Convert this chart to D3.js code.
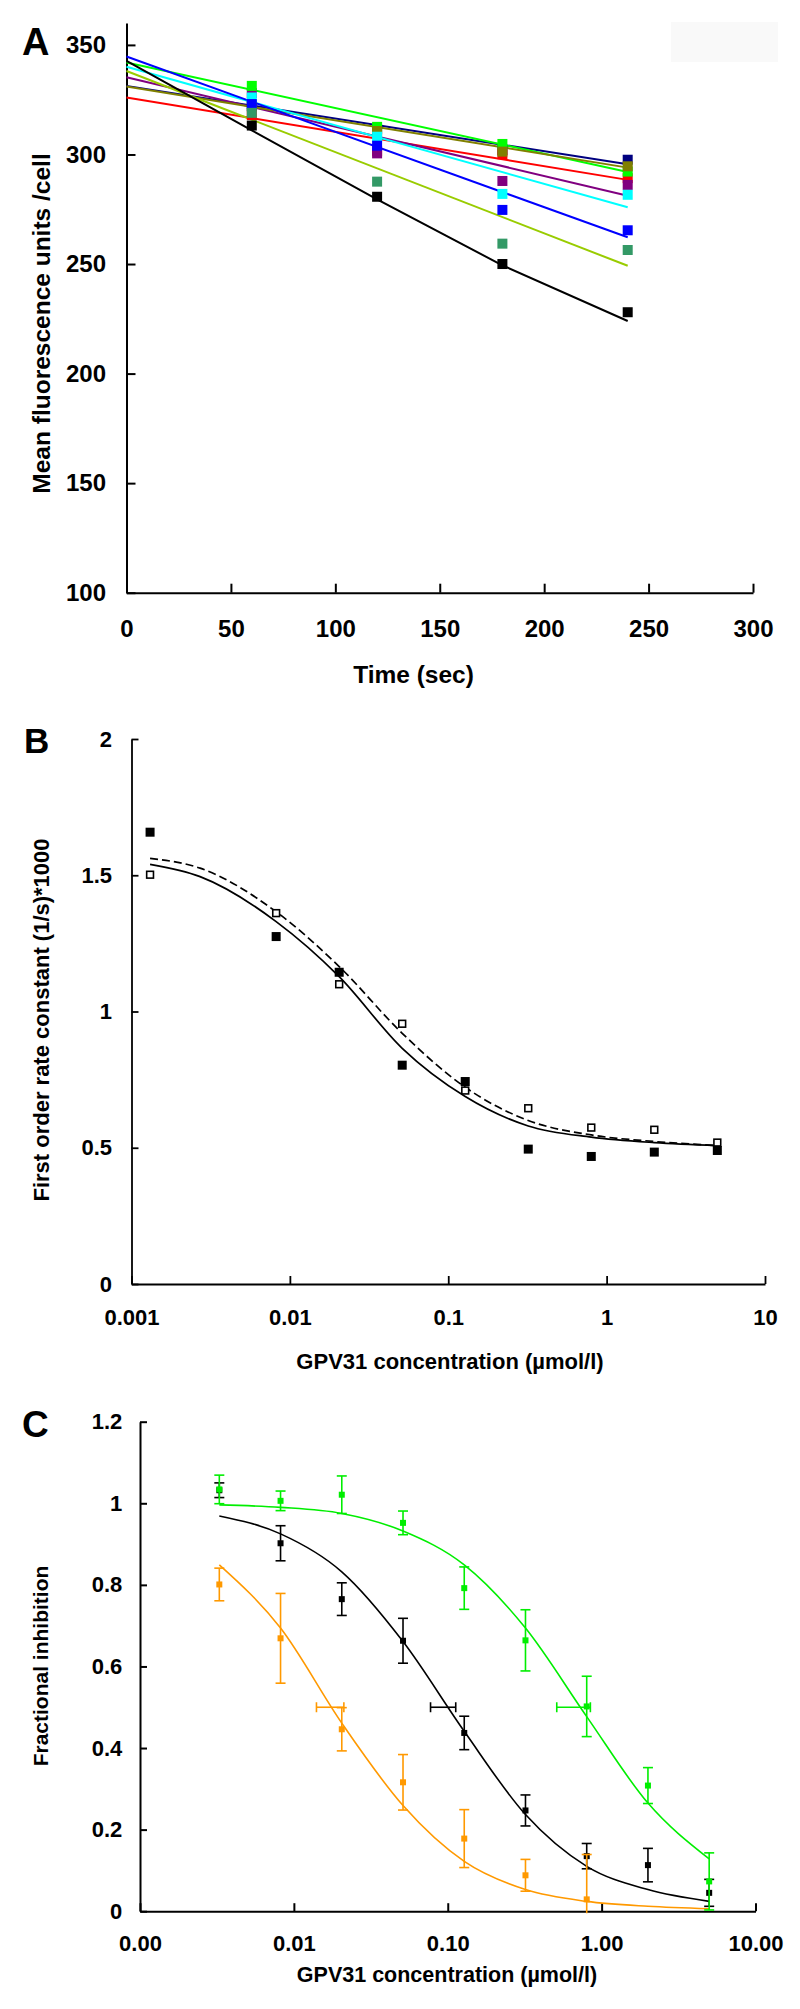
<!DOCTYPE html>
<html><head><meta charset="utf-8">
<script src="https://cdn.jsdelivr.net/npm/d3@7"></script>
<style>
body{margin:0;background:#fff;}
svg{display:block;font-family:"Liberation Sans",Arial,Helvetica,sans-serif;}
</style></head><body>
<svg id="c" width="800" height="2009"></svg>
<script>
// ---------- Panel A data ----------
const aTime = [60, 120, 180, 240];
const aXTicks = [0, 50, 100, 150, 200, 250, 300];
const aYTicks = [100, 150, 200, 250, 300, 350];
const aNavy = [322, 311.5, 302, 297.6];
const aRed = [318, 301.5, 300.1, 289.2];
const aPurple = [328, 300.5, 287.9, 286.1];
const aLime = [331.3, 312.6, 304.8, 292.2];
const aOlive = [322.5, 310.7, 301.3, 294.6];
const aCyan = [326, 308.1, 282, 281.6];
const aBlue = [323, 304, 274.7, 265.4];
const aSeaGreen = [319, 287.6, 259.3, 256.4];
const aBlack = [313.2, 280.7, 250, 228];
const aFitTime = [0, 240];
const aFitNavy = [331.3, 295.5];
const aFitRed = [326, 288.4];
const aFitPurple = [335.2, 281.2];
const aFitLime = [342, 292];
const aFitOlive = [331, 294];
const aFitCyan = [340, 275.9];
const aFitBlue = [344.7, 262.2];
const aFitYellowGreen = [338.1, 249.2];
const aFitBlackTime = [0, 60, 120, 180, 240];
const aFitBlack = [342.7, 311, 279.5, 249.4, 224];

// ---------- Panel B data ----------
const bXTicks = [0.001, 0.01, 0.1, 1, 10];
const bXLabels = ["0.001", "0.01", "0.1", "1", "10"];
const bYTicks = [0, 0.5, 1, 1.5, 2];
const bYLabels = ["0", "0.5", "1", "1.5", "2"];
const bConc = [0.00131, 0.008192, 0.02048, 0.0512, 0.128, 0.32, 0.8, 2, 5];
const bFilled = [1.658, 1.275, 1.144, 0.803, 0.743, 0.495, 0.468, 0.484, 0.49];
const bOpen = [1.502, 1.361, 1.100, 0.955, 0.710, 0.645, 0.574, 0.566, 0.519];
const bFitConc = [0.00131, 0.00271, 0.008192, 0.02048, 0.0512, 0.128, 0.32, 0.8, 2, 5];
const bFitSolid = [1.54, 1.495, 1.33, 1.128, 0.865, 0.688, 0.58, 0.539, 0.519, 0.508];
const bFitDashed = [1.562, 1.526, 1.366, 1.165, 0.92, 0.722, 0.6, 0.547, 0.523, 0.508];

// ---------- Panel C data ----------
const cXTicks = [0.001, 0.01, 0.1, 1, 10];
const cXLabels = ["0.00", "0.01", "0.10", "1.00", "10.00"];
const cYTicks = [0, 0.2, 0.4, 0.6, 0.8, 1, 1.2];
const cYLabels = ["0", "0.2", "0.4", "0.6", "0.8", "1", "1.2"];
const cConc = [0.0032768, 0.008192, 0.02048, 0.0512, 0.128, 0.32, 0.8, 2, 5];
const cGreen = [1.034, 1.006, 1.021, 0.952, 0.792, 0.664, 0.502, 0.308, 0.073];
const cGreenErr = [0.035, 0.024, 0.046, 0.029, 0.052, 0.075, 0.074, 0.044, 0.07];
const cBlack = [1.032, 0.902, 0.765, 0.663, 0.437, 0.247, 0.135, 0.113, 0.045];
const cBlackErr = [0.018, 0.043, 0.04, 0.055, 0.041, 0.038, 0.031, 0.041, 0.033];
const cOrangeConc = [0.0032768, 0.008192, 0.02048, 0.0512, 0.128, 0.32, 0.8];
const cOrange = [0.801, 0.669, 0.446, 0.316, 0.178, 0.088, 0.029];
const cOrangeErr = [0.04, 0.11, 0.053, 0.068, 0.071, 0.039, 0.11];
const cFitGreen = [0.996, 0.990, 0.975, 0.932, 0.849, 0.694, 0.477, 0.265, 0.128];
const cFitBlack = [0.969, 0.925, 0.832, 0.661, 0.441, 0.237, 0.110, 0.053, 0.024];
const cFitOrange = [0.849, 0.694, 0.461, 0.259, 0.122, 0.053, 0.024, 0.012, 0.006];
// IC50 horizontal error bars (order: orange, black, green)
const cIC50 = [0.0172, 0.0933, 0.657];
const cIC50Lo = [0.01402, 0.0773, 0.511];
const cIC50Hi = [0.02113, 0.1127, 0.845];
const cIC50Y = [0.5, 0.5, 0.5];

// ---------- drawing ----------
const FONT = '"Liberation Sans", Arial, Helvetica, sans-serif';
const svg = d3.select("#c");
svg.append("rect").attr("width", 800).attr("height", 2009).attr("fill", "#fff");

function styleAxis(g, fs, sw) {
  g.attr("font-family", FONT);
  g.select(".domain").attr("stroke", "#000").attr("stroke-width", sw);
  g.selectAll(".tick line").attr("stroke", "#000").attr("stroke-width", sw);
  g.selectAll(".tick text").attr("fill", "#000").attr("font-size", fs)
    .attr("font-weight", "bold").attr("font-family", FONT);
}
function label(txt, x, y, fs, opts = {}) {
  const t = svg.append("text").text(txt).attr("x", x).attr("y", y)
    .attr("font-size", fs).attr("font-weight", "bold").attr("font-family", FONT)
    .attr("fill", "#000").attr("text-anchor", opts.anchor || "start");
  if (opts.rotate) t.attr("transform", `rotate(-90,${x},${y})`);
  return t;
}

// ===== Panel A =====
{
  const x = d3.scaleLinear().domain([0, 300]).range([126.5, 753]);
  const y = d3.scaleLinear().domain([100, 360]).range([592.7, 23]);
  svg.append("rect").attr("x", 671).attr("y", 22).attr("width", 107).attr("height", 40).attr("fill", "#f9f9f9");

  const gx = svg.append("g").attr("transform", "translate(0,592.7)")
    .call(d3.axisBottom(x).tickValues(aXTicks).tickFormat(d3.format("d")).tickSizeInner(-9).tickSizeOuter(0).tickPadding(27));
  styleAxis(gx, 24, 2);
  const gy = svg.append("g").attr("transform", "translate(126.5,0)")
    .call(d3.axisLeft(y).tickValues(aYTicks).tickFormat(d3.format("d")).tickSizeInner(-9).tickSizeOuter(0).tickPadding(20.5));
  styleAxis(gy, 24, 2);

  const series = [
    {c: "#000080", lc: "#000080", v: aNavy, ft: aFitTime, fv: aFitNavy},
    {c: "#ff0000", lc: "#ff0000", v: aRed, ft: aFitTime, fv: aFitRed},
    {c: "#800080", lc: "#800080", v: aPurple, ft: aFitTime, fv: aFitPurple},
    {c: "#00ff00", lc: "#00ff00", v: aLime, ft: aFitTime, fv: aFitLime},
    {c: "#808000", lc: "#808000", v: aOlive, ft: aFitTime, fv: aFitOlive},
    {c: "#00ffff", lc: "#00ffff", v: aCyan, ft: aFitTime, fv: aFitCyan},
    {c: "#0000ff", lc: "#0000ff", v: aBlue, ft: aFitTime, fv: aFitBlue},
    {c: "#339966", lc: "#99cc00", v: aSeaGreen, ft: aFitTime, fv: aFitYellowGreen},
    {c: "#000000", lc: "#000000", v: aBlack, ft: aFitBlackTime, fv: aFitBlack}
  ];
  const line = d3.line().x(d => x(d[0])).y(d => y(d[1]));
  series.forEach(s => {
    svg.append("path").attr("d", line(s.ft.map((t, i) => [t, s.fv[i]])))
      .attr("fill", "none").attr("stroke", s.lc).attr("stroke-width", 2);
  });
  series.forEach(s => {
    svg.append("g").selectAll("rect").data(aTime.map((t, i) => [t, s.v[i]])).join("rect")
      .attr("x", d => x(d[0]) - 5).attr("y", d => y(d[1]) - 5)
      .attr("width", 10).attr("height", 10).attr("fill", s.c);
  });
  label("A", 22, 55, 38);
  label("Time (sec)", 413.5, 683, 24.5, {anchor: "middle"});
  label("Mean fluorescence units /cell", 50, 323.5, 24.5, {anchor: "middle", rotate: true});
}

// ===== Panel B =====
{
  const x = d3.scaleLog().domain([0.001, 10]).range([131.5, 765]);
  const y = d3.scaleLinear().domain([0, 2]).range([1284, 739]);
  const gx = svg.append("g").attr("transform", "translate(0,1284)")
    .call(d3.axisBottom(x).tickValues(bXTicks).tickFormat((d, i) => bXLabels[i]).tickSizeInner(-8).tickSizeOuter(0).tickPadding(25));
  styleAxis(gx, 22, 1.8);
  const gy = svg.append("g").attr("transform", "translate(131.5,0)")
    .call(d3.axisLeft(y).tickValues(bYTicks).tickFormat((d, i) => bYLabels[i]).tickSizeInner(-7).tickSizeOuter(0).tickPadding(19.5));
  styleAxis(gy, 22, 1.8);

  const line = d3.line().x(d => x(d[0])).y(d => y(d[1])).curve(d3.curveMonotoneX);
  svg.append("path").attr("d", line(bFitConc.map((c, i) => [c, bFitSolid[i]])))
    .attr("fill", "none").attr("stroke", "#000").attr("stroke-width", 1.7);
  svg.append("path").attr("d", line(bFitConc.map((c, i) => [c, bFitDashed[i]])))
    .attr("fill", "none").attr("stroke", "#000").attr("stroke-width", 1.7).attr("stroke-dasharray", "8,4");

  svg.append("g").selectAll("rect").data(bConc.map((c, i) => [c, bFilled[i]])).join("rect")
    .attr("x", d => x(d[0]) - 4.5).attr("y", d => y(d[1]) - 4.5)
    .attr("width", 9).attr("height", 9).attr("fill", "#000");
  svg.append("g").selectAll("rect").data(bConc.map((c, i) => [c, bOpen[i]])).join("rect")
    .attr("x", d => x(d[0]) - 3.4).attr("y", d => y(d[1]) - 3.4)
    .attr("width", 6.8).attr("height", 6.8).attr("fill", "#fff").attr("stroke", "#000").attr("stroke-width", 1.6);

  label("B", 24, 752.7, 35);
  label("GPV31 concentration (µmol/l)", 450, 1369, 22, {anchor: "middle"});
  label("First order rate constant (1/s)*1000", 49, 1020, 22, {anchor: "middle", rotate: true});
}

// ===== Panel C =====
{
  const x = d3.scaleLog().domain([0.001, 10]).range([140, 755.5]);
  const y = d3.scaleLinear().domain([0, 1.2]).range([1911.2, 1421.7]);
  const gx = svg.append("g").attr("transform", "translate(0,1911.2)")
    .call(d3.axisBottom(x).tickValues(cXTicks).tickFormat((d, i) => cXLabels[i]).tickSizeInner(-8).tickSizeOuter(0).tickPadding(24.4));
  styleAxis(gx, 22, 2);
  const gy = svg.append("g").attr("transform", "translate(140,0)")
    .call(d3.axisLeft(y).tickValues(cYTicks).tickFormat((d, i) => cYLabels[i]).tickSizeInner(-7).tickSizeOuter(0).tickPadding(17.7));
  styleAxis(gy, 22, 2);

  const yMin = y(-0.005);
  const line = d3.line().x(d => x(d[0])).y(d => y(d[1])).curve(d3.curveMonotoneX);
  const groups = [
    {col: "#000000", conc: cConc, v: cBlack, e: cBlackErr, fit: cFitBlack},
    {col: "#ff9900", conc: cOrangeConc, v: cOrange, e: cOrangeErr, fit: cFitOrange},
    {col: "#00ee00", conc: cConc, v: cGreen, e: cGreenErr, fit: cFitGreen}
  ];
  groups.forEach(gr => {
    svg.append("path").attr("d", line(cConc.map((c, i) => [c, gr.fit[i]])))
      .attr("fill", "none").attr("stroke", gr.col).attr("stroke-width", 1.6);
  });
  // IC50 horizontal bars
  const hCols = ["#ff9900", "#000000", "#00ee00"];
  cIC50.forEach((c, i) => {
    const g = svg.append("g").attr("stroke", hCols[i]).attr("stroke-width", 1.6);
    const yy = y(cIC50Y[i]);
    g.append("line").attr("x1", x(cIC50Lo[i])).attr("x2", x(cIC50Hi[i])).attr("y1", yy).attr("y2", yy);
    [cIC50Lo[i], cIC50Hi[i]].forEach(v => g.append("line").attr("x1", x(v)).attr("x2", x(v)).attr("y1", yy - 5).attr("y2", yy + 5));
  });
  groups.forEach(gr => {
    const g = svg.append("g").attr("stroke", gr.col).attr("stroke-width", 1.6);
    gr.conc.forEach((c, i) => {
      const px = x(c);
      const yt = y(gr.v[i] + gr.e[i]);
      let yb = y(gr.v[i] - gr.e[i]);
      const clipped = yb > yMin;
      if (clipped) yb = yMin;
      g.append("line").attr("x1", px).attr("x2", px).attr("y1", yt).attr("y2", yb);
      g.append("line").attr("x1", px - 5).attr("x2", px + 5).attr("y1", yt).attr("y2", yt);
      if (!clipped) g.append("line").attr("x1", px - 5).attr("x2", px + 5).attr("y1", yb).attr("y2", yb);
    });
    svg.append("g").selectAll("rect").data(gr.conc.map((c, i) => [c, gr.v[i]])).join("rect")
      .attr("x", d => x(d[0]) - 3).attr("y", d => y(d[1]) - 3)
      .attr("width", 6).attr("height", 6).attr("fill", gr.col);
  });

  label("C", 22, 1437, 37);
  label("GPV31 concentration (µmol/l)", 447, 1982, 21.5, {anchor: "middle"});
  label("Fractional inhibition", 48, 1666, 21, {anchor: "middle", rotate: true});
}
</script>
</body></html>
